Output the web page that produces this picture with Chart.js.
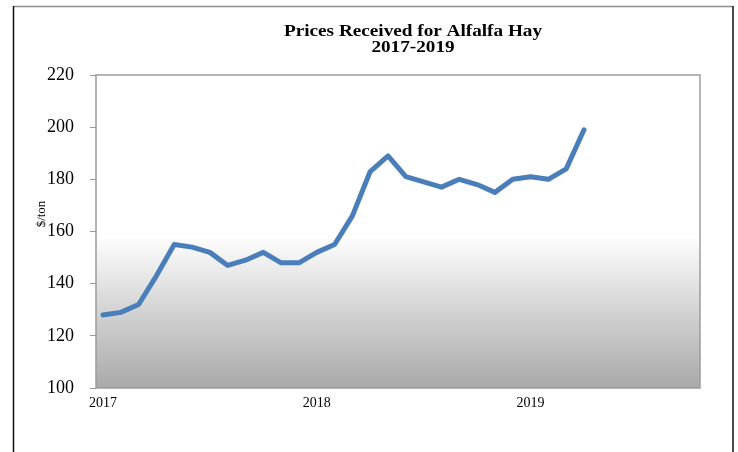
<!DOCTYPE html>
<html><head><meta charset="utf-8">
<script src="https://cdn.jsdelivr.net/npm/chart.js@4/dist/chart.umd.min.js"></script>
<style>html,body{margin:0;padding:0;background:#fff}#wrap{width:738px;height:452px}</style>
</head><body><div id="wrap"><canvas id="c" width="738" height="452"></canvas></div>
<script>
const months = ['Jan 2017','Feb 2017','Mar 2017','Apr 2017','May 2017','Jun 2017','Jul 2017','Aug 2017','Sep 2017','Oct 2017','Nov 2017','Dec 2017',
  'Jan 2018','Feb 2018','Mar 2018','Apr 2018','May 2018','Jun 2018','Jul 2018','Aug 2018','Sep 2018','Oct 2018','Nov 2018','Dec 2018',
  'Jan 2019','Feb 2019','Mar 2019','Apr 2019'];
const prices = [128,129,132,143,155,154,152,147,149,152,148,148,
  152,155,166,183,189,181,179,177,180,178,175,180,
  181,180,184,199];
const yearTickIndex = [0,12,24];
const yearLabels = ['2017','2018','2019'];
const titleLines = ['Prices Received for Alfalfa Hay','2017-2019'];
const yTitle = '$/ton';

const serif = "'Liberation Serif','Times New Roman',serif";

const decor = {
  id:'decor',
  beforeDraw(chart){
    const ctx = chart.ctx, a = chart.chartArea;
    ctx.save();
    ctx.fillStyle = '#fff';
    ctx.fillRect(0,0,chart.width,chart.height);
    // outer frame
    ctx.strokeStyle = '#8c8c8c'; ctx.lineWidth = 1.5;
    ctx.beginPath(); ctx.moveTo(13,6.5); ctx.lineTo(733,6.5); ctx.stroke();
    ctx.strokeStyle = '#111'; ctx.lineWidth = 1.5;
    ctx.beginPath(); ctx.moveTo(13.5,6); ctx.lineTo(13.5,452); ctx.moveTo(733,6); ctx.lineTo(733,452); ctx.stroke();
    // plot background
    const gStart = 238;
    ctx.fillStyle = '#fff';
    ctx.fillRect(a.left,a.top,a.right-a.left,gStart-a.top);
    const g = ctx.createLinearGradient(0,gStart,0,a.bottom);
    g.addColorStop(0,'#fdfdfd');
    g.addColorStop(0.5,'#d2d2d2');
    g.addColorStop(1,'#a9a9a9');
    ctx.fillStyle = g;
    ctx.fillRect(a.left,gStart,a.right-a.left,a.bottom-gStart);
    ctx.strokeStyle = '#9c9c9c'; ctx.lineWidth = 1.5;
    ctx.strokeRect(a.left,a.top,a.right-a.left,a.bottom-a.top);
    // title (horizontally widened like the reference)
    ctx.fillStyle = '#000';
    ctx.textAlign = 'center'; ctx.textBaseline = 'middle';
    ctx.font = "bold 16px " + serif;
    ctx.save();
    ctx.translate(413,0); ctx.scale(1.2,1);
    ctx.fillText(titleLines[0], 0, 32);
    ctx.fillText(titleLines[1], 0, 48);
    ctx.restore();
    // y title
    ctx.translate(42,214); ctx.rotate(-Math.PI/2);
    ctx.font = "13px " + serif;
    ctx.fillText(yTitle,0,0);
    ctx.restore();
  }
};

new Chart(document.getElementById('c'), {
  type:'line',
  data:{
    labels: months,
    datasets:[{
      label:'Alfalfa hay price',
      data: prices.map((v,i)=>({x:i,y:v})),
      borderColor:'#4a7ebb',
      borderWidth:5,
      pointRadius:0,
      tension:0,
      borderCapStyle:'round',
      borderJoinStyle:'round',
      fill:false
    }]
  },
  options:{
    responsive:false,
    devicePixelRatio:1,
    animation:false,
    layout:{padding:{left:18,right:38,top:75,bottom:34}},
    plugins:{legend:{display:false},title:{display:false},tooltip:{enabled:false}},
    scales:{
      x:{
        type:'linear', min:-0.39, max:33.51,
        afterBuildTicks(s){ s.ticks = yearTickIndex.map(v=>({value:v})); },
        afterFit(s){ s.height = 30; },
        grid:{display:false, drawTicks:false},
        border:{display:false},
        ticks:{
          padding:7, maxRotation:0, autoSkip:false, color:'#000',
          font:{family:serif,size:14},
          callback(v){ const k = yearTickIndex.indexOf(v); return k>=0 ? yearLabels[k] : ''; }
        }
      },
      y:{
        min:100, max:220,
        afterFit(s){ s.width = 78; },
        grid:{drawOnChartArea:false, drawTicks:true, tickLength:6, color:'#999'},
        border:{display:false},
        ticks:{stepSize:20, padding:16, color:'#000', font:{family:serif,size:18}}
      }
    }
  },
  plugins:[decor]
});
</script>
</body></html>
